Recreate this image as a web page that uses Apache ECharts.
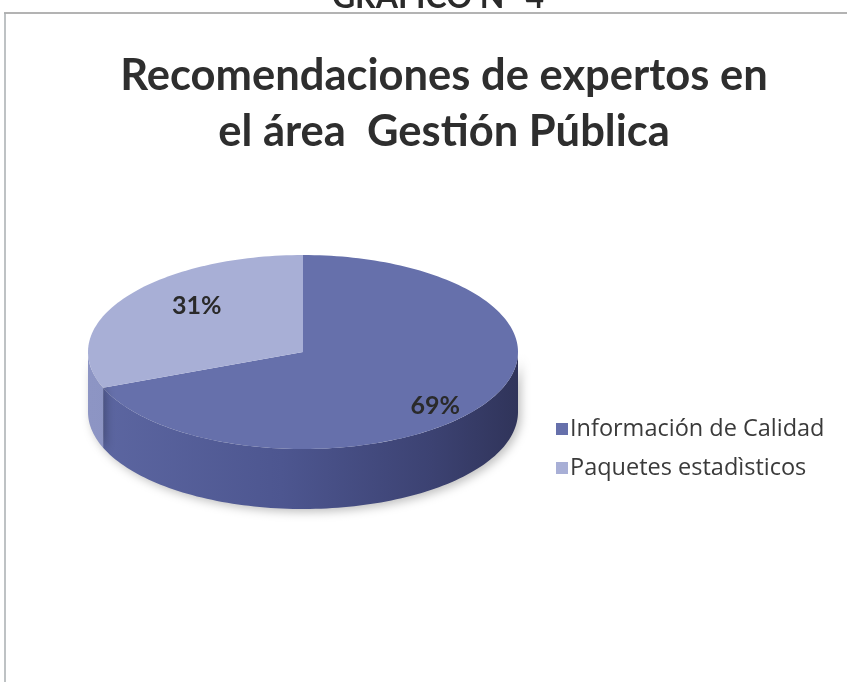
<!DOCTYPE html>
<html>
<head>
<meta charset="utf-8">
<script src="https://cdn.jsdelivr.net/npm/echarts@6/dist/echarts.min.js"></script>
<style>
  html, body { margin: 0; padding: 0; background: #ffffff; }
  #chart { width: 847px; height: 682px; }
</style>
</head>
<body>
<div id="chart"></div>
<script>
// Chart data
const categories = ['Información de Calidad', 'Paquetes estadìsticos'];
const values = [69, 31];
const topColors = ['#6670ab', '#a8afd6'];
const chartTitle = 'Recomendaciones de expertos en\nel área  Gestión Pública';
const figureLabel = 'GRÁFICO N° 4';

const FONT = 'Lato, "Open Sans", sans-serif';
const LEGEND_FONT = '"Open Sans", Lato, sans-serif';

// Geometry of the tilted pie (ellipse top face + side wall)
const cx = 303, cy = 352, rx = 215, ry = 97, depth = 60;
const total = values.reduce((a, b) => a + b, 0);

function ellPt(t, dy) {
  // t: degrees clockwise from 12 o'clock
  const a = (90 - t) * Math.PI / 180;
  return [cx + rx * Math.cos(a), cy - ry * Math.sin(a) + (dy || 0)];
}

function arcPts(t0, t1, dy) {
  const pts = [];
  const n = Math.max(2, Math.ceil(Math.abs(t1 - t0) / 1.5));
  for (let k = 0; k <= n; k++) pts.push(ellPt(t0 + (t1 - t0) * k / n, dy));
  return pts;
}

const sideFills = [
  new echarts.graphic.LinearGradient(cx - rx, 0, cx + rx, 0, [
    { offset: 0, color: '#5d67a2' },
    { offset: 0.45, color: '#4d5690' },
    { offset: 0.8, color: '#3c4272' },
    { offset: 1, color: '#30345a' }
  ], true),
  new echarts.graphic.LinearGradient(cx - rx, 0, cx + rx, 0, [
    { offset: 0, color: '#8d95c4' },
    { offset: 1, color: '#7a82b5' }
  ], true)
];

function makeRenderItem(idx) {
  return function (params, api) {
    const v = api.value(0);
    let before = 0;
    for (let j = 0; j < idx; j++) before += values[j];
    const t0 = before / total * 360;
    const t1 = (before + v) / total * 360;
    const children = [];

    // front side wall: visible between 90 and 270 degrees
    const s0 = Math.max(t0, 90), s1 = Math.min(t1, 270);
    if (s1 > s0) {
      const topArc = arcPts(s0, s1, 0);
      const botArc = arcPts(s1, s0, depth);
      children.push({
        type: 'polygon',
        shape: { points: topArc.concat(botArc) },
        style: {
          fill: sideFills[idx],
          shadowBlur: 10, shadowColor: 'rgba(0,0,0,0.25)', shadowOffsetX: 3, shadowOffsetY: 3
        }
      });
    }

    // top face sector
    children.push({
      type: 'polygon',
      shape: { points: [[cx, cy]].concat(arcPts(t0, t1, 0)) },
      style: { fill: topColors[idx] }
    });

    // percentage label
    const tm = (t0 + t1) / 2;
    const am = (90 - tm) * Math.PI / 180;
    children.push({
      type: 'text',
      x: cx + 13 + rx * 0.67 * Math.cos(am),
      y: cy + 4 - ry * 0.91 * Math.sin(am),
      style: {
        text: Math.round(v / total * 100) + '%',
        fill: '#2a2a2a',
        font: 'bold 25px ' + FONT,
        align: 'center',
        verticalAlign: 'middle'
      }
    });

    return { type: 'group', children: children };
  };
}

const chart = echarts.init(document.getElementById('chart'), null, { renderer: 'canvas' });

chart.setOption({
  backgroundColor: '#ffffff',
  animation: false,
  title: {
    text: chartTitle,
    left: 439,
    top: 43,
    textAlign: 'center',
    textStyle: {
      fontFamily: FONT,
      fontSize: 43.5,
      fontWeight: 'bold',
      lineHeight: 56,
      color: '#2e2e2e'
    }
  },
  legend: {
    orient: 'vertical',
    left: 551,
    top: 412,
    itemWidth: 12,
    itemHeight: 12,
    itemGap: 15,
    icon: 'rect',
    data: categories,
    textStyle: { fontFamily: LEGEND_FONT, fontSize: 23.5, color: '#3a3a3a', padding: [0, 0, 0, -3] }
  },
  graphic: [
    { type: 'line', shape: { x1: 4, y1: 13, x2: 847, y2: 13 }, style: { stroke: '#9a9a9a', lineWidth: 1.5 } },
    { type: 'line', shape: { x1: 5, y1: 13, x2: 5, y2: 682 }, style: { stroke: '#a8aeb0', lineWidth: 1.5 } },
    {
      type: 'text', x: 438, y: 14,
      style: { text: figureLabel, font: 'bold 32px ' + FONT, fill: '#2a2a2a', align: 'center', verticalAlign: 'bottom' }
    }
  ],
  series: categories.map((name, i) => ({
    type: 'custom',
    name: name,
    coordinateSystem: 'none',
    itemStyle: { color: topColors[i] },
    data: [[values[i]]],
    renderItem: makeRenderItem(i)
  }))
});
</script>
</body>
</html>
